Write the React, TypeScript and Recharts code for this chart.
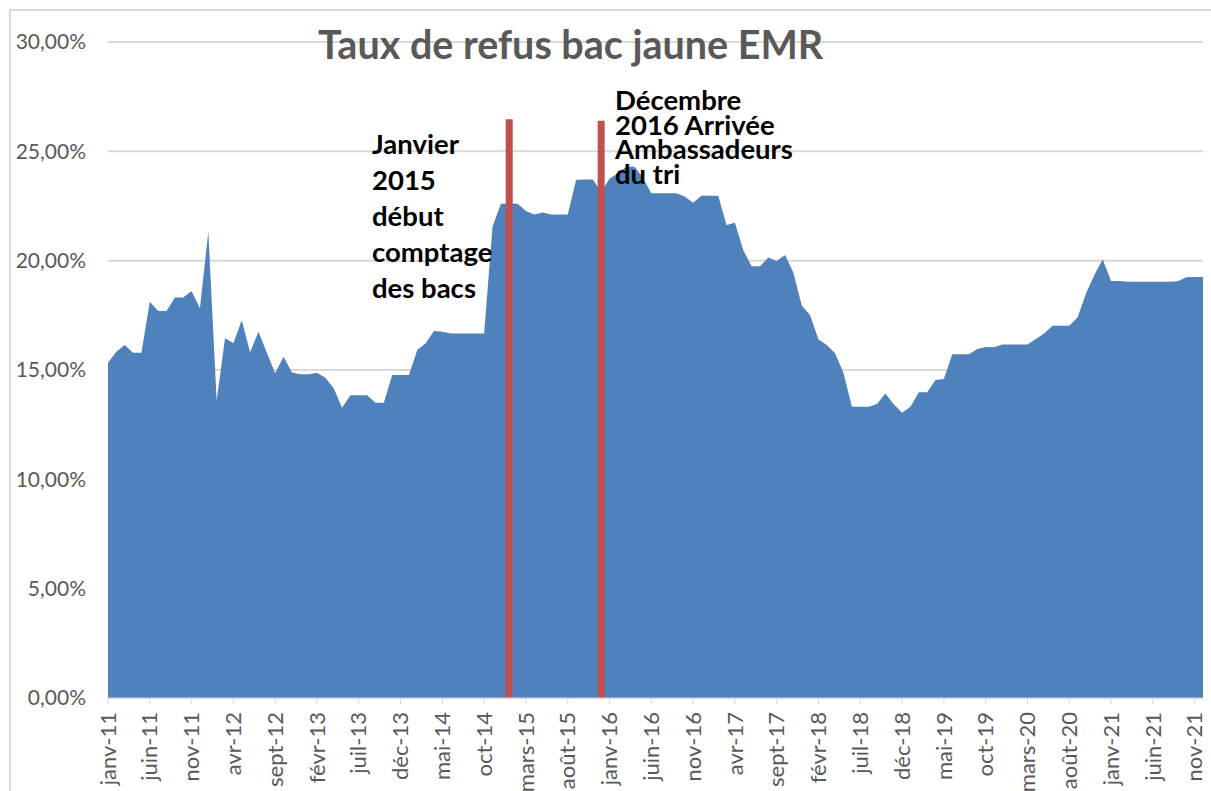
import React from 'react';
import { AreaChart, Area, XAxis, YAxis, CartesianGrid, ReferenceLine } from 'recharts';

const monthNames = ['janv', 'févr', 'mars', 'avr', 'mai', 'juin', 'juil', 'août', 'sept', 'oct', 'nov', 'déc'];
const years = ['11', '12', '13', '14', '15', '16', '17', '18', '19', '20', '21'];

const refusRate = [
  15.33, 15.84, 16.14, 15.79, 15.79, 18.12, 17.70, 17.70, 18.32, 18.32, 18.61, 17.82,
  21.32, 13.60, 16.45, 16.22, 17.28, 15.81, 16.75, 15.79, 14.85, 15.61, 14.89, 14.80,
  14.80, 14.87, 14.65, 14.16, 13.27, 13.85, 13.85, 13.85, 13.50, 13.50, 14.77, 14.77,
  14.77, 15.91, 16.22, 16.78, 16.75, 16.67, 16.67, 16.67, 16.67, 16.67, 21.55, 22.60,
  22.62, 22.60, 22.27, 22.11, 22.20, 22.11, 22.11, 22.11, 23.69, 23.71, 23.71, 23.15,
  23.75, 24.00, 24.30, 24.30, 23.78, 23.08, 23.08, 23.08, 23.08, 22.93, 22.65, 22.97,
  22.97, 22.97, 21.63, 21.73, 20.48, 19.75, 19.75, 20.15, 19.98, 20.26, 19.45, 17.95,
  17.50, 16.40, 16.14, 15.76, 14.85, 13.32, 13.32, 13.32, 13.45, 13.93, 13.43, 13.05,
  13.32, 13.98, 13.98, 14.54, 14.59, 15.72, 15.72, 15.72, 15.96, 16.05, 16.04, 16.17,
  16.17, 16.17, 16.17, 16.42, 16.67, 17.02, 17.02, 17.02, 17.41, 18.50, 19.34, 20.07,
  19.07, 19.07, 19.04, 19.04, 19.04, 19.04, 19.04, 19.04, 19.06, 19.24, 19.25, 19.25,
];

const yTicks = [0, 5, 10, 15, 20, 25, 30];

const markerMonths = ['janv-15', 'déc-15'];
const markerTops = [26.47, 26.4];

const categories: string[] = [];
years.forEach((yy) => monthNames.forEach((m) => categories.push(`${m}-${yy}`)));

const data = refusRate.map((v, i) => ({ month: categories[i], v }));

const FONT = 'Lato, "Liberation Sans", sans-serif';

const XTick = (props: any) => {
  const { x, y, payload } = props;
  return (
    <g transform={`translate(${x},${y}) rotate(-90)`}>
      <text textAnchor="end" dy="0.35em" fill="#595959" fontSize={22} fontFamily={FONT}>
        {payload.value}
      </text>
    </g>
  );
};

const fmt = (v: number) => v.toFixed(2).replace('.', ',') + '%';

export default function App() {
  return (
    <div style={{ position: 'absolute', left: 0, top: 0, width: 1211, height: 791, background: '#fff', overflow: 'hidden' }}>
      <div style={{ position: 'absolute', left: 9, top: 9, width: 1220, height: 800, borderLeft: '2px solid #d9d9d9', borderTop: '2px solid #d9d9d9' }} />
      <AreaChart
        width={1211}
        height={791}
        data={data}
        margin={{ top: 42, right: 8, bottom: 3, left: 8 }}
        style={{ position: 'absolute', left: 0, top: 0 }}
      >
        <CartesianGrid vertical={false} stroke="#d9d9d9" strokeWidth={2} />
        <XAxis
          dataKey="month"
          height={90}
          interval={4}
          tick={<XTick />}
          tickSize={6}
          tickMargin={8}
          stroke="#d9d9d9"
          tickLine={{ stroke: '#d9d9d9' }}
          axisLine={{ stroke: '#d9d9d9' }}
        />
        <YAxis
          width={100}
          domain={[0, 30]}
          ticks={yTicks}
          tickFormatter={fmt}
          axisLine={false}
          tickLine={false}
          tickSize={0}
          tickMargin={22}
          tick={{ fill: '#595959', fontSize: 21, fontFamily: FONT }}
        />
        <Area
          type="linear"
          dataKey="v"
          fill="#4F81BD"
          fillOpacity={1}
          stroke="none"
          isAnimationActive={false}
        />
        {markerMonths.map((m, i) => (
          <ReferenceLine
            key={m}
            segment={[{ x: m, y: 0 }, { x: m, y: markerTops[i] }]}
            stroke="#C0504D"
            strokeWidth={7}
          />
        ))}
      </AreaChart>
      <div style={{ position: 'absolute', left: 318, top: 20, fontFamily: FONT, fontWeight: 700, fontSize: 39.5, color: '#595959', whiteSpace: 'nowrap' }}>
        Taux de refus bac jaune EMR
      </div>
      <div style={{ position: 'absolute', left: 372, top: 126, fontFamily: FONT, fontWeight: 700, fontSize: 27.5, lineHeight: '36px', color: '#000', whiteSpace: 'nowrap' }}>
        Janvier<br />2015<br />début<br />comptage<br />des bacs
      </div>
      <div style={{ position: 'absolute', left: 615, top: 88, fontFamily: FONT, fontWeight: 700, fontSize: 27.5, lineHeight: '24.5px', color: '#000', whiteSpace: 'nowrap' }}>
        Décembre<br />2016 Arrivée<br />Ambassadeurs<br />du tri
      </div>
    </div>
  );
}
